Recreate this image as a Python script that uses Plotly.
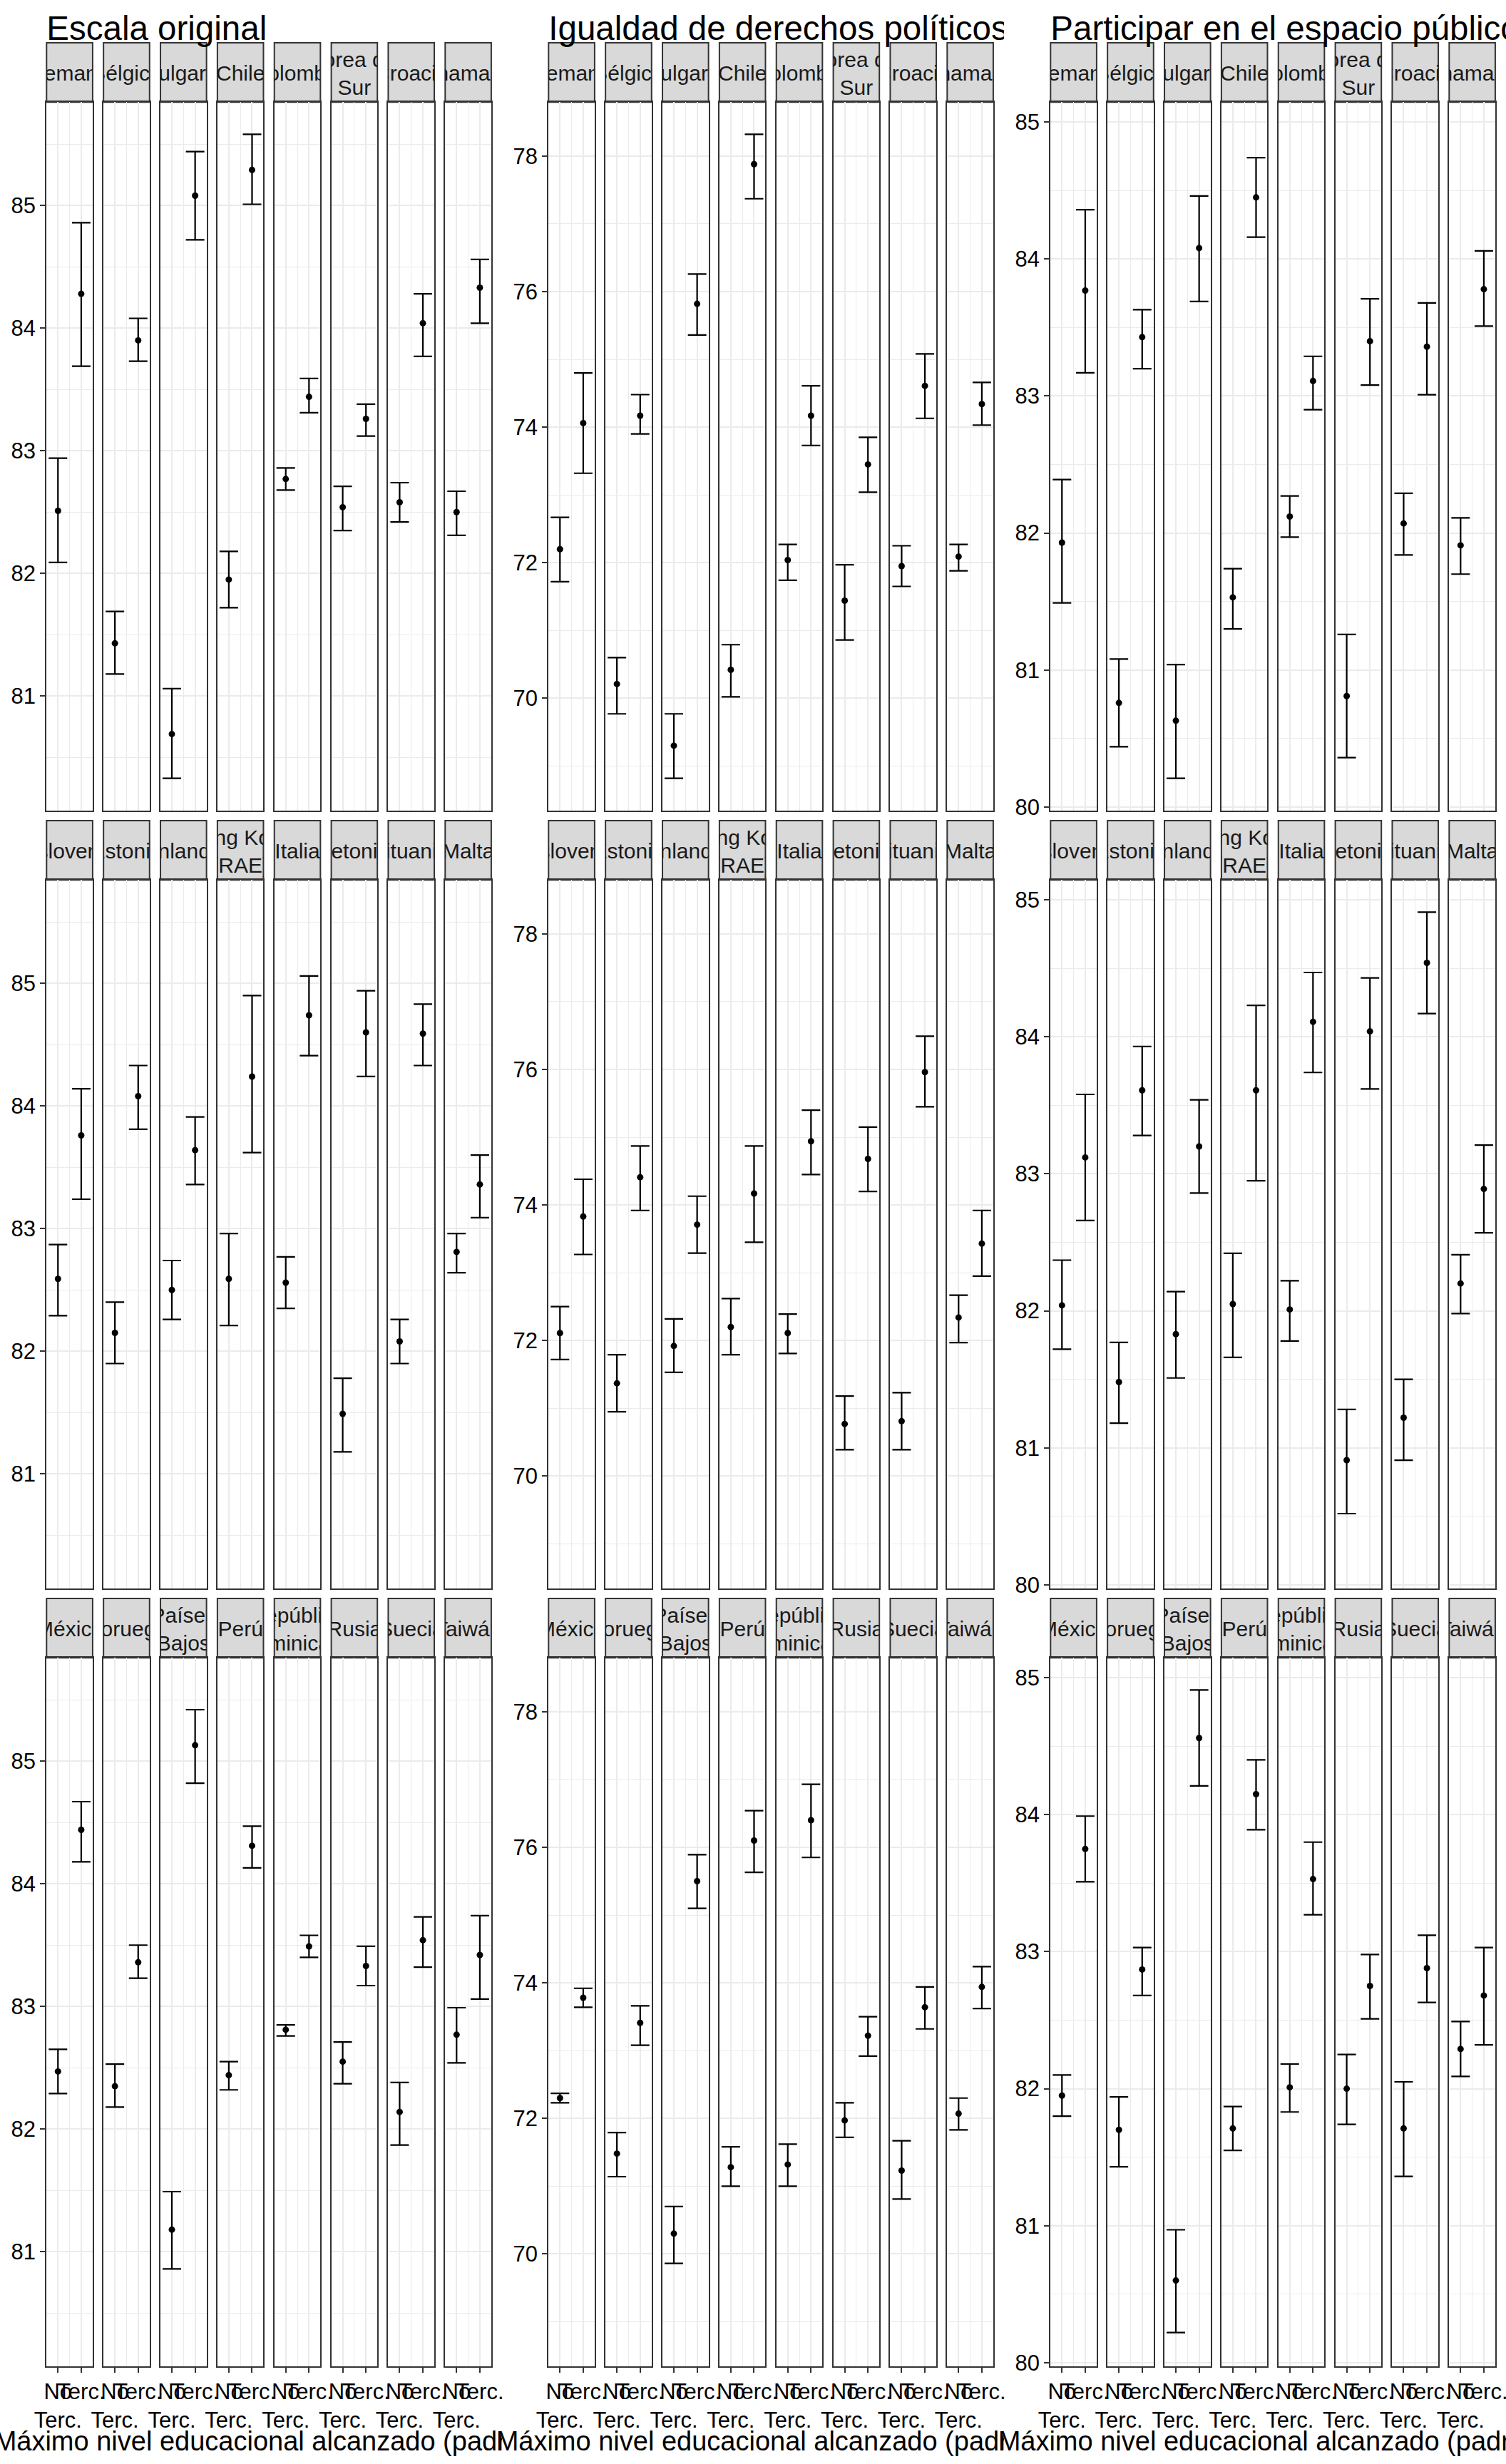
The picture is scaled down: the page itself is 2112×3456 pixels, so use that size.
import plotly.graph_objects as go

# ---------------- data ----------------
countries = ["Alemania", "Bélgica", "Bulgaria", "Chile", "Colombia", "Corea del Sur", "Croacia", "Dinamarca",
             "Eslovenia", "Estonia", "Finlandia", "Hong Kong (RAE)", "Italia", "Letonia", "Lituania", "Malta",
             "México", "Noruega", "Países Bajos", "Perú", "República Dominicana", "Rusia", "Suecia", "Taiwán"]
strip_labels = ["Alemania", "Bélgica", "Bulgaria", "Chile", "Colombia", "Corea del<br>Sur", "Croacia", "Dinamarca",
                "Eslovenia", "Estonia", "Finlandia", "Hong Kong<br>(RAE)", "Italia", "Letonia", "Lituania", "Malta",
                "México", "Noruega", "Países<br>Bajos", "Perú", "República<br>Dominicana", "Rusia", "Suecia", "Taiwán"]
education_levels = ["No Terc.", "Terc."]
tick_labels = ["No<br>Terc.", "Terc."]
panel_titles = ["Escala original", "Igualdad de derechos políticos", "Participar en el espacio público"]
x_title = "Máximo nivel educacional alcanzado (padres)"

# Escala original
orig_noterc = [82.51, 81.43, 80.69, 81.95, 82.77, 82.54, 82.58, 82.50,
               82.59, 82.15, 82.50, 82.59, 82.56, 81.49, 82.08, 82.81,
               82.47, 82.35, 81.18, 82.44, 82.81, 82.55, 82.14, 82.77]
orig_noterc_lo = [82.09, 81.18, 80.33, 81.72, 82.68, 82.35, 82.42, 82.31,
                  82.29, 81.90, 82.26, 82.21, 82.35, 81.18, 81.90, 82.64,
                  82.29, 82.18, 80.86, 82.32, 82.76, 82.37, 81.87, 82.54]
orig_noterc_hi = [82.94, 81.69, 81.06, 82.18, 82.86, 82.71, 82.74, 82.67,
                  82.87, 82.40, 82.74, 82.96, 82.77, 81.78, 82.26, 82.96,
                  82.65, 82.53, 81.49, 82.55, 82.85, 82.71, 82.38, 82.99]
orig_terc = [84.28, 83.90, 85.08, 85.29, 83.44, 83.26, 84.04, 84.33,
             83.76, 84.08, 83.64, 84.24, 84.74, 84.60, 84.59, 83.36,
             84.44, 83.36, 85.13, 84.31, 83.49, 83.33, 83.54, 83.42]
orig_terc_lo = [83.69, 83.73, 84.72, 85.01, 83.31, 83.12, 83.77, 84.04,
                83.24, 83.81, 83.36, 83.62, 84.41, 84.24, 84.33, 83.09,
                84.18, 83.23, 84.82, 84.13, 83.40, 83.17, 83.32, 83.06]
orig_terc_hi = [84.86, 84.08, 85.44, 85.58, 83.59, 83.38, 84.28, 84.56,
                84.14, 84.33, 83.91, 84.90, 85.06, 84.94, 84.83, 83.60,
                84.67, 83.50, 85.42, 84.47, 83.58, 83.49, 83.73, 83.74]

# Igualdad de derechos políticos
igual_noterc = [72.20, 70.21, 69.30, 70.42, 72.04, 71.44, 71.95, 72.09,
                72.11, 71.37, 71.92, 72.20, 72.11, 70.77, 70.81, 72.34,
                72.30, 71.48, 70.30, 71.28, 71.32, 71.97, 71.23, 72.07]
igual_noterc_lo = [71.72, 69.77, 68.82, 70.02, 71.74, 70.86, 71.65, 71.88,
                   71.72, 70.95, 71.53, 71.79, 71.81, 70.39, 70.39, 71.97,
                   72.23, 71.14, 69.86, 71.00, 71.00, 71.72, 70.81, 71.83]
igual_noterc_hi = [72.67, 70.60, 69.77, 70.79, 72.27, 71.97, 72.25, 72.27,
                   72.50, 71.79, 72.32, 72.62, 72.39, 71.18, 71.23, 72.67,
                   72.37, 71.79, 70.70, 71.58, 71.62, 72.23, 71.67, 72.30]
igual_terc = [74.06, 74.17, 75.82, 77.88, 74.17, 73.45, 74.61, 74.34,
              73.83, 74.41, 73.71, 74.17, 74.94, 74.68, 75.96, 73.43,
              73.78, 73.41, 75.50, 76.10, 76.40, 73.22, 73.64, 73.94]
igual_terc_lo = [73.32, 73.90, 75.36, 77.37, 73.73, 73.04, 74.13, 74.03,
                 73.27, 73.92, 73.29, 73.45, 74.45, 74.20, 75.45, 72.95,
                 73.64, 73.08, 75.10, 75.63, 75.85, 72.92, 73.32, 73.62]
igual_terc_hi = [74.80, 74.48, 76.26, 78.32, 74.61, 73.85, 75.08, 74.66,
                 74.38, 74.87, 74.13, 74.87, 75.40, 75.15, 76.49, 73.92,
                 73.92, 73.66, 75.89, 76.54, 76.93, 73.50, 73.94, 74.24]

# Participar en el espacio público
part_noterc = [81.93, 80.76, 80.63, 81.53, 82.12, 80.81, 82.07, 81.91,
               82.04, 81.48, 81.83, 82.05, 82.01, 80.91, 81.22, 82.20,
               81.95, 81.70, 80.60, 81.71, 82.01, 82.00, 81.71, 82.29]
part_noterc_lo = [81.49, 80.44, 80.21, 81.30, 81.97, 80.36, 81.84, 81.70,
                  81.72, 81.18, 81.51, 81.66, 81.78, 80.52, 80.91, 81.98,
                  81.80, 81.43, 80.22, 81.55, 81.83, 81.74, 81.36, 82.09]
part_noterc_hi = [82.39, 81.08, 81.04, 81.74, 82.27, 81.26, 82.29, 82.11,
                  82.37, 81.77, 82.14, 82.42, 82.22, 81.28, 81.50, 82.41,
                  82.10, 81.94, 80.97, 81.87, 82.18, 82.25, 82.05, 82.49]
part_terc = [83.77, 83.43, 84.08, 84.45, 83.11, 83.40, 83.36, 83.78,
             83.12, 83.61, 83.20, 83.61, 84.11, 84.04, 84.54, 82.89,
             83.75, 82.87, 84.56, 84.15, 83.53, 82.75, 82.88, 82.68]
part_terc_lo = [83.17, 83.20, 83.69, 84.16, 82.90, 83.08, 83.01, 83.51,
                82.66, 83.28, 82.86, 82.95, 83.74, 83.62, 84.17, 82.57,
                83.51, 82.68, 84.21, 83.89, 83.27, 82.51, 82.63, 82.32]
part_terc_hi = [84.36, 83.63, 84.46, 84.74, 83.29, 83.71, 83.68, 84.06,
                83.58, 83.93, 83.54, 84.23, 84.47, 84.43, 84.91, 83.21,
                83.99, 83.03, 84.91, 84.40, 83.80, 82.98, 83.12, 83.03]

y_major_ticks = [[81, 82, 83, 84, 85], [70, 72, 74, 76, 78], [80, 81, 82, 83, 84, 85]]
y_minor_ticks = [[80.5, 81.5, 82.5, 83.5, 84.5, 85.5], [69, 71, 73, 75, 77], [80.5, 81.5, 82.5, 83.5, 84.5]]

measures = [
    (orig_noterc, orig_noterc_lo, orig_noterc_hi, orig_terc, orig_terc_lo, orig_terc_hi),
    (igual_noterc, igual_noterc_lo, igual_noterc_hi, igual_terc, igual_terc_lo, igual_terc_hi),
    (part_noterc, part_noterc_lo, part_noterc_hi, part_terc, part_terc_lo, part_terc_hi),
]

# ---------------- geometry (pixels) ----------------
W, H = 2112, 3456
PLOT_W = 704.0
FACET_X0 = 65.3
FACET_PERIOD = 79.86
FACET_W = 64.6
ROW_Y0 = 60.0
ROW_PERIOD = 1091.0
STRIP_H = 83.3
PANEL_H = 993.4
FONT = "Liberation Sans, Arial, sans-serif"
ERR_W = 0.8  # errorbar width in x units

x_pos = [i + 1 for i in range(len(education_levels))]
x_lo, x_hi = x_pos[0] - ERR_W / 2, x_pos[-1] + ERR_W / 2
x_range = [x_lo - 0.05 * (x_hi - x_lo), x_hi + 0.05 * (x_hi - x_lo)]


def xd(px0, px1):
    return [max(0.0, px0 / W), min(1.0, px1 / W)]


def yd(top, bottom):
    return [max(0.0, 1 - bottom / H), min(1.0, 1 - top / H)]


fig = go.Figure()
layout = {}
shapes = []
counter = [0]


def new_axis():
    counter[0] += 1
    n = counter[0]
    return n, ("xaxis" if n == 1 else f"xaxis{n}"), ("yaxis" if n == 1 else f"yaxis{n}"), \
        ("x" if n == 1 else f"x{n}"), ("y" if n == 1 else f"y{n}")


for p, meas in enumerate(measures):
    no, no_lo, no_hi, te, te_lo, te_hi = meas
    lo_all = min(no_lo + te_lo)
    hi_all = max(no_hi + te_hi)
    span = hi_all - lo_all
    y_range = [lo_all - 0.05 * span, hi_all + 0.05 * span]
    for k, country in enumerate(countries):
        r, c = divmod(k, 8)
        left = p * PLOT_W + FACET_X0 + c * FACET_PERIOD
        right = left + FACET_W
        s_top = ROW_Y0 + r * ROW_PERIOD
        s_bot = s_top + STRIP_H
        p_top = s_bot
        p_bot = p_top + PANEL_H

        # panel
        n, xa, ya, xr, yr = new_axis()
        bottom_row = (r == 2)
        first_col = (c == 0)
        layout[xa] = dict(domain=xd(left, right), range=x_range, anchor=yr,
                          tickmode="array", tickvals=x_pos, ticktext=tick_labels, tickangle=0,
                          ticklabeloverflow="allow",
                          showticklabels=bottom_row, ticks="outside" if bottom_row else "",
                          ticklen=7, tickwidth=2, tickcolor="#333333",
                          tickfont=dict(size=31, color="black", family=FONT),
                          showgrid=True, gridcolor="#EBEBEB", gridwidth=2,
                          minor=dict(tickmode="array", tickvals=[1.5], showgrid=True,
                                     gridcolor="#EBEBEB", gridwidth=1.3, ticks=""),
                          showline=True, mirror=True, linecolor="#333333", linewidth=2,
                          zeroline=False, fixedrange=True, automargin=False)
        layout[ya] = dict(domain=yd(p_top, p_bot), range=y_range, anchor=xr,
                          tickmode="array", tickvals=y_major_ticks[p], tickangle=0,
                          ticklabeloverflow="allow",
                          showticklabels=first_col, ticks="outside" if first_col else "",
                          ticklen=7, tickwidth=2, tickcolor="#333333",
                          tickfont=dict(size=31, color="black", family=FONT),
                          showgrid=True, gridcolor="#EBEBEB", gridwidth=2,
                          minor=dict(tickmode="array", tickvals=y_minor_ticks[p], showgrid=True,
                                     gridcolor="#EBEBEB", gridwidth=1.3, ticks=""),
                          showline=True, mirror=True, linecolor="#333333", linewidth=2,
                          zeroline=False, fixedrange=True, automargin=False)
        means = [no[k], te[k]]
        lows = [no_lo[k], te_lo[k]]
        highs = [no_hi[k], te_hi[k]]
        fig.add_trace(go.Scatter(
            x=x_pos, y=means, mode="markers", xaxis=xr, yaxis=yr,
            marker=dict(color="black", size=9),
            error_y=dict(type="data", symmetric=False,
                         array=[h - m for h, m in zip(highs, means)],
                         arrayminus=[m - l for m, l in zip(means, lows)],
                         color="black", thickness=2.2, width=13),
            showlegend=False, hoverinfo="skip", cliponaxis=False))

        # strip
        n2, xa2, ya2, xr2, yr2 = new_axis()
        layout[xa2] = dict(domain=xd(left, right), range=[0, 1], anchor=yr2, visible=False,
                           fixedrange=True, automargin=False)
        layout[ya2] = dict(domain=yd(s_top, s_bot), range=[0, 1], anchor=xr2, visible=False,
                           fixedrange=True, automargin=False)
        shapes.append(dict(type="rect", xref="paper", yref="paper",
                           x0=left / W, x1=right / W, y0=1 - s_bot / H, y1=1 - s_top / H,
                           fillcolor="#D9D9D9", line=dict(color="#333333", width=2), layer="below"))
        fig.add_trace(go.Scatter(
            x=[0.5], y=[0.45], mode="text", text=[strip_labels[k]], textposition="middle center",
            textfont=dict(size=30, color="#1A1A1A", family=FONT), cliponaxis=True,
            xaxis=xr2, yaxis=yr2, showlegend=False, hoverinfo="skip"))

# titles (clipped to each plot's area, like patchwork)
for p, title in enumerate(panel_titles):
    x0 = p * PLOT_W
    x1 = min(W, (p + 1) * PLOT_W)
    n, xa, ya, xr, yr = new_axis()
    layout[xa] = dict(domain=xd(x0, x1), range=[x0, x1], anchor=yr, visible=False,
                      fixedrange=True, automargin=False)
    layout[ya] = dict(domain=yd(0, 80), range=[80, 0], anchor=xr, visible=False,
                      fixedrange=True, automargin=False)
    fig.add_trace(go.Scatter(
        x=[x0 + FACET_X0], y=[56 - 0.25 * 47.5], mode="text", text=[title], textposition="middle right",
        textfont=dict(size=47.5, color="black", family=FONT), cliponaxis=True,
        xaxis=xr, yaxis=yr, showlegend=False, hoverinfo="skip"))

for p in range(3):
    x0 = max(0, p * PLOT_W - 30)
    x1 = min(W, (p + 1) * PLOT_W)
    n, xa, ya, xr, yr = new_axis()
    layout[xa] = dict(domain=xd(x0, x1), range=[x0, x1], anchor=yr, visible=False,
                      fixedrange=True, automargin=False)
    layout[ya] = dict(domain=yd(3395, H), range=[H, 3395], anchor=xr, visible=False,
                      fixedrange=True, automargin=False)
    cx = p * PLOT_W + (FACET_X0 + FACET_X0 + 7 * FACET_PERIOD + FACET_W) / 2
    fig.add_trace(go.Scatter(
        x=[cx], y=[3436.7 - 0.25 * 38], mode="text", text=[x_title], textposition="middle center",
        textfont=dict(size=38, color="black", family=FONT), cliponaxis=True,
        xaxis=xr, yaxis=yr, showlegend=False, hoverinfo="skip"))

layout.update(dict(width=W, height=H, margin=dict(l=0, r=0, t=0, b=0, pad=0, autoexpand=False),
                   paper_bgcolor="white", plot_bgcolor="rgba(0,0,0,0)",
                   showlegend=False, hovermode=False, shapes=shapes,
                   font=dict(family=FONT, color="black")))
fig.update_layout(**layout)
fig.write_html("out.html", config={"displayModeBar": False})
